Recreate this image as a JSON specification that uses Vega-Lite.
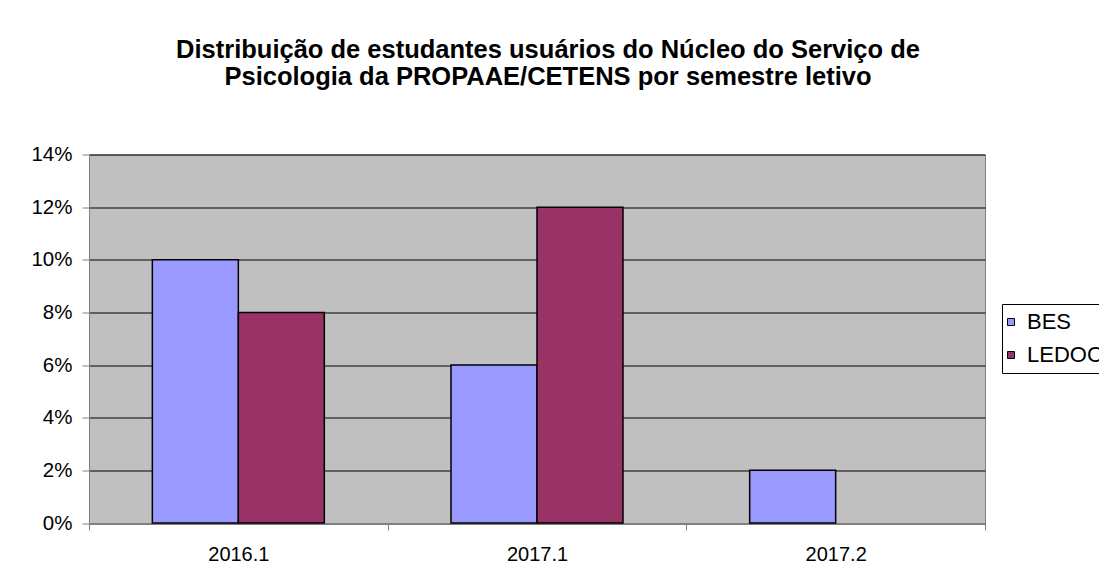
{
  "$schema": "https://vega.github.io/schema/vega-lite/v6.json",
  "width": 896,
  "height": 368.5,
  "autosize": {"type": "none"},
  "padding": {"left": 89, "top": 154.5, "right": 114, "bottom": 60},
  "background": "white",
  "title": {
    "text": ["Distribuição de estudantes usuários do Núcleo do Serviço de", "Psicologia da PROPAAE/CETENS por semestre letivo"],
    "font": "Liberation Sans",
    "fontSize": 25.5,
    "fontWeight": "bold",
    "color": "black",
    "anchor": "middle",
    "frame": "group",
    "dx": 11,
    "offset": 54,
    "lineHeight": 27
  },
  "data": {
    "values": [
      {"semestre": "2016.1", "curso": "BES", "valor": 0.10},
      {"semestre": "2016.1", "curso": "LEDOC", "valor": 0.08},
      {"semestre": "2017.1", "curso": "BES", "valor": 0.06},
      {"semestre": "2017.1", "curso": "LEDOC", "valor": 0.12},
      {"semestre": "2017.2", "curso": "BES", "valor": 0.02}
    ]
  },
  "mark": {"type": "bar", "stroke": "black", "strokeWidth": 1.5},
  "encoding": {
    "x": {
      "field": "semestre",
      "type": "nominal",
      "sort": ["2016.1", "2017.1", "2017.2"],
      "scale": {"paddingInner": 0, "paddingOuter": 0},
      "axis": {
        "title": null,
        "labelAngle": 0,
        "tickBand": "extent",
        "domainColor": "#808080",
        "tickColor": "#808080",
        "tickSize": 7,
        "labelPadding": 14,
        "labelFontSize": 20,
        "labelFont": "Liberation Sans",
        "labelColor": "black",
        "grid": false
      }
    },
    "xOffset": {
      "field": "curso",
      "type": "nominal",
      "sort": ["BES", "LEDOC"],
      "scale": {"domain": ["BES", "LEDOC"], "paddingInner": 0, "paddingOuter": 0.7366}
    },
    "y": {
      "field": "valor",
      "type": "quantitative",
      "scale": {"domain": [0, 0.14], "nice": false},
      "axis": {
        "title": null,
        "format": ".0%",
        "values": [0, 0.02, 0.04, 0.06, 0.08, 0.1, 0.12, 0.14],
        "grid": true,
        "gridColor": "black",
        "gridOpacity": 1,
        "gridWidth": 1,
        "domainColor": "#808080",
        "tickColor": "#808080",
        "tickSize": 7,
        "labelPadding": 10,
        "labelFontSize": 20.5,
        "labelFont": "Liberation Sans",
        "labelColor": "black"
      }
    },
    "color": {
      "field": "curso",
      "type": "nominal",
      "scale": {"domain": ["BES", "LEDOC"], "range": ["#9999FF", "#993366"]},
      "legend": {
        "title": null,
        "orient": "none",
        "legendX": 913,
        "legendY": 149.5,
        "padding": 7,
        "strokeColor": "black",
        "fillColor": "white",
        "cornerRadius": 0,
        "symbolType": "square",
        "symbolSize": 49,
        "symbolOffset": -9,
        "symbolStrokeColor": "black",
        "symbolStrokeWidth": 1,
        "labelFontSize": 22,
        "labelFont": "Liberation Sans",
        "labelColor": "black",
        "labelOffset": 5,
        "rowPadding": 11
      }
    }
  },
  "config": {
    "view": {"fill": "#C0C0C0", "stroke": "#808080", "strokeWidth": 1}
  }
}
